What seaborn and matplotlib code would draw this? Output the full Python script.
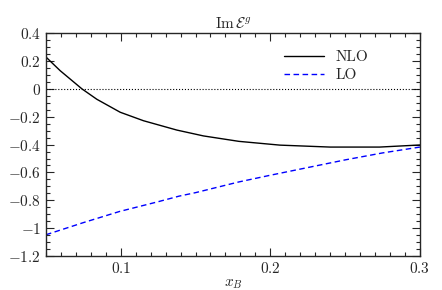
import pandas as pd
import matplotlib
matplotlib.use("Agg")
import matplotlib.pyplot as plt
import matplotlib.ticker as mticker
import seaborn as sns

# values
x_nlo = [0.05, 0.0595, 0.074, 0.084, 0.0996, 0.1152, 0.1375, 0.1553, 0.179, 0.2064, 0.24, 0.273, 0.3]
y_nlo = [0.228, 0.13, 0.0, -0.075, -0.168, -0.229, -0.296, -0.338, -0.377, -0.404, -0.418, -0.418, -0.403]

x_lo = [0.05, 0.075, 0.0992, 0.125, 0.139, 0.15, 0.179, 0.2, 0.225, 0.24, 0.25, 0.275, 0.3]
y_lo = [-1.047, -0.96, -0.88, -0.81, -0.77, -0.745, -0.668, -0.62, -0.565, -0.532, -0.51, -0.46, -0.418]

sns.set_style("ticks")
plt.rcParams['font.family'] = ['serif']
plt.rcParams['font.serif'] = ['cmr10', 'DejaVu Serif']
plt.rcParams['mathtext.fontset'] = 'cm'
plt.rcParams['axes.formatter.use_mathtext'] = True

df_nlo = pd.DataFrame({'x': x_nlo, 'y': y_nlo})
df_lo = pd.DataFrame({'x': x_lo, 'y': y_lo})

fig = plt.figure(figsize=(4.42, 2.9), dpi=100)
ax = fig.add_axes([0.104, 0.117, 0.846, 0.769])

ax.axhline(0, color='black', ls=':', lw=0.8)
sns.lineplot(data=df_nlo, x='x', y='y', ax=ax, color='black', lw=1.0, label='NLO')
sns.lineplot(data=df_lo, x='x', y='y', ax=ax, color='blue', lw=1.0, ls='--', label='LO', dashes=False)
ax.lines[-1].set_dashes([4, 2.5])

ax.set_xlim(0.05, 0.3)
ax.set_ylim(-1.2, 0.4)
ax.xaxis.set_major_locator(mticker.FixedLocator([0.1, 0.2, 0.3]))
ax.xaxis.set_minor_locator(mticker.MultipleLocator(0.01))
ax.yaxis.set_major_locator(mticker.MultipleLocator(0.2))
ax.yaxis.set_minor_locator(mticker.MultipleLocator(0.05))
fmt = mticker.FuncFormatter(lambda v, p: "$%g$" % round(v, 3))
ax.xaxis.set_major_formatter(fmt)
ax.yaxis.set_major_formatter(fmt)
ax.tick_params(which='both', direction='in', top=True, right=True, labelsize=11, width=0.8)
ax.tick_params(which='major', length=6)
ax.tick_params(which='minor', length=3)
for s in ax.spines.values():
    s.set_linewidth(1.0)

ax.set_xlabel("$x_B$", fontsize=11, labelpad=1)
ax.set_ylabel("")
ax.set_title(r"$\mathrm{Im}\,\mathcal{E}^g$", fontsize=11, pad=4)
leg = ax.legend(loc='upper right', frameon=False, fontsize=11, handlelength=2.6,
                bbox_to_anchor=(0.9, 0.985), labelspacing=0.3)

fig.savefig("out.png", dpi=100)
